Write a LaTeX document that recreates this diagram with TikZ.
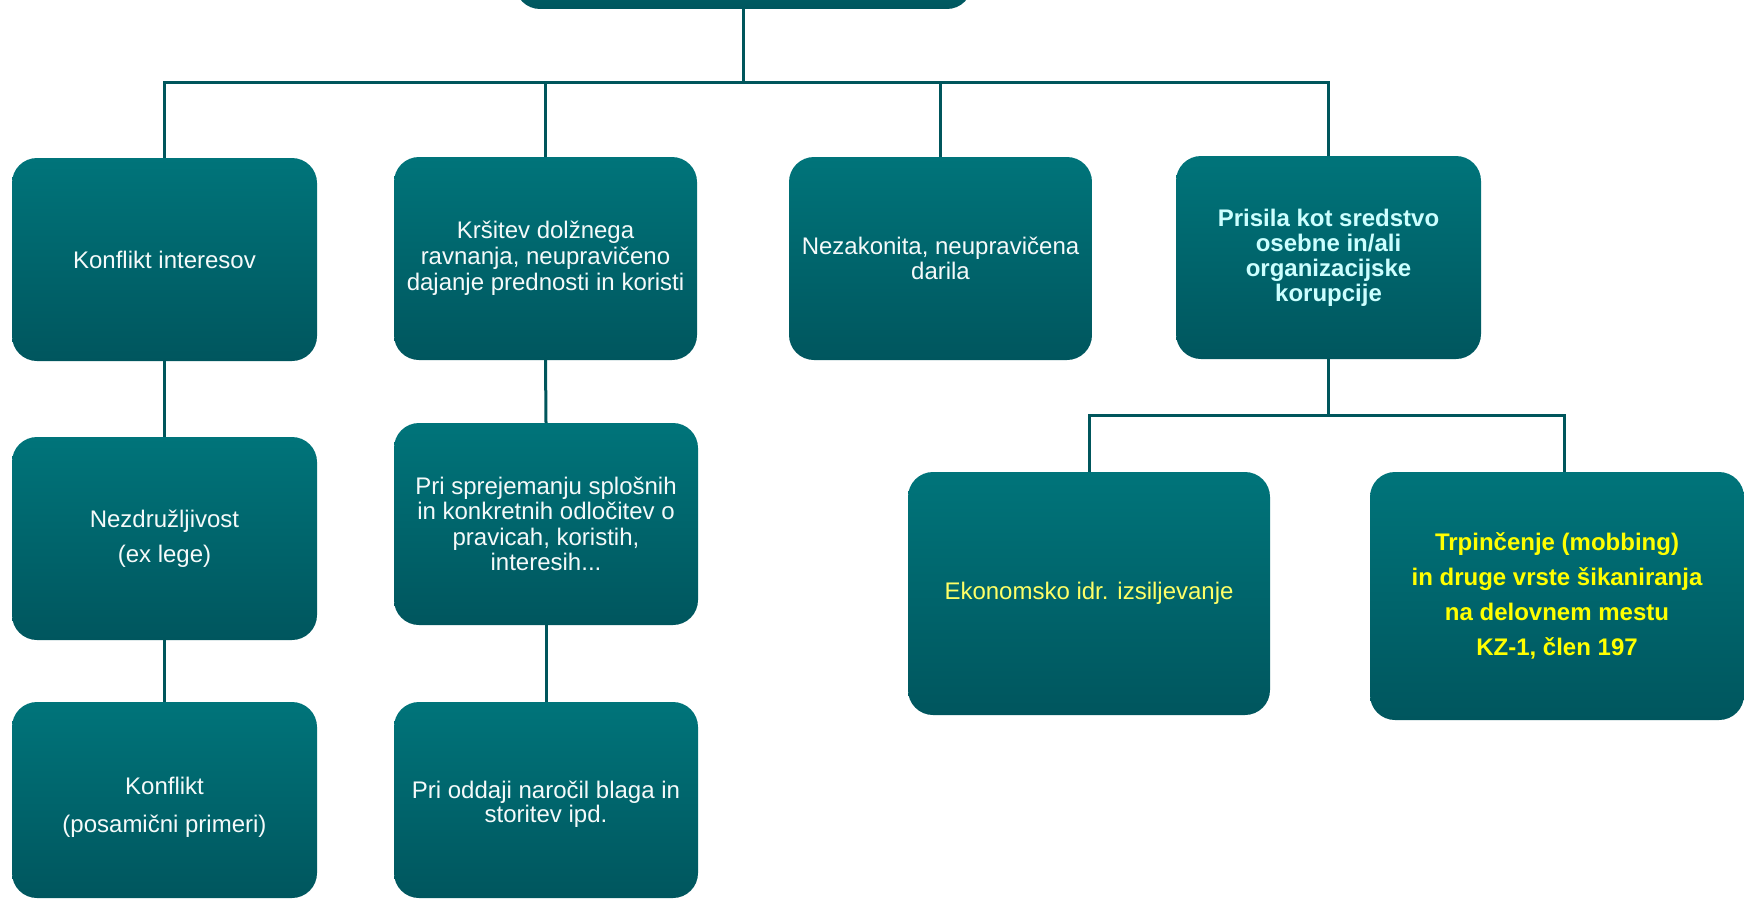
\documentclass[tikz,border=0pt]{standalone}
\usepackage{fontspec}
\setmainfont{Liberation Sans}
\definecolor{tealtop}{RGB}{0,116,122}
\definecolor{tealbot}{RGB}{0,86,94}
\definecolor{tline}{RGB}{0,86,92}
\definecolor{txtw}{RGB}{245,250,250}
\definecolor{txtc}{RGB}{204,255,255}
\definecolor{txty}{RGB}{255,255,102}
\definecolor{txtyy}{RGB}{255,255,0}
\tikzset{
  box/.style={rectangle, rounded corners=25pt, top color=tealtop, bottom color=tealbot,
    draw=none, inner sep=0pt, align=center, text=txtw,
    font=\fontsize{24}{#1}\selectfont},
  box/.default=25,
  boxtext/.style={inner sep=0pt, align=center, text=txtw, font=\fontsize{24}{#1}\selectfont},
  boxtext/.default=25,
  conn/.style={draw=tline, line width=3pt},
}
\begin{document}
\begin{tikzpicture}[x=1pt,y=-1pt]
\useasboundingbox (0,0) rectangle (1744,899);
\clip (0,0) rectangle (1744,899);
% root (cut off at top)
\node[box, minimum width=457pt, minimum height=69pt] (root) at (743.5,-25.5) {};
% row 1
\node[box, minimum width=305pt, minimum height=203pt] (b1) at (164.5,259.5) {Konflikt interesov};
\node[box=26, minimum width=303pt, minimum height=203pt] (b2) at (545.5,258.5)
  {Kršitev dolžnega\\ravnanja, neupravičeno\\dajanje prednosti in koristi};
\node[box=24.5, minimum width=303pt, minimum height=203pt] (b3) at (940.5,258.5)
  {Nezakonita, neupravičena\\darila};
\node[box, minimum width=305pt, minimum height=203pt, text=txtc, font=\bfseries\fontsize{24}{25}\selectfont] (b4) at (1328.5,257.5)
  {Prisila kot sredstvo\\osebne in/ali\\organizacijske\\korupcije};
% row 2
\node[box=34.5, minimum width=305pt, minimum height=203pt] (b5) at (164.5,538.5)
  {Nezdružljivost\\(ex lege)};
\node[box=25.5, minimum width=304pt, minimum height=202pt] (b6) at (546,524)
  {Pri sprejemanju splošnih\\in konkretnih odločitev o\\pravicah, koristih,\\interesih...};
% row 3
\node[box, minimum width=305pt, minimum height=196pt] (b7) at (164.5,800) {};
\node[boxtext=38] (t7) at ([yshift=-7pt]b7.center) {Konflikt\\(posamični primeri)};
\node[box, minimum width=304pt, minimum height=196pt] (b8) at (546,800) {};
\node[boxtext=24.5] (t8) at ([yshift=-4pt]b8.center) {Pri oddaji naročil blaga in\\storitev ipd.};
% coercion children
\node[box, minimum width=362pt, minimum height=243pt, text=txty] (b9) at (1089,593.5)
  {Ekonomsko idr. izsiljevanje};
\node[box=35, minimum width=374pt, minimum height=248pt, text=txtyy, font=\bfseries\fontsize{24}{35}\selectfont] (b10) at (1557,596)
  {Trpinčenje (mobbing)\\in druge vrste šikaniranja\\na delovnem mestu\\KZ-1, člen 197};
% connectors
\coordinate (j1) at (743,82);
\coordinate (j2) at (1328.5,415);
\coordinate (d10) at (1564,472);
\draw[conn] (root.south -| j1) -- (j1);
\draw[conn] (b1.north) |- (j1) -| (b4.north);
\draw[conn] (b2.north) -- (b2.north |- j1);
\draw[conn] (b3.north) -- (b3.north |- j1);
\draw[conn] (b1.south) -- (b5.north);
\draw[conn] (b5.south) -- (b7.north);
\draw[conn] (b2.south) -- (b6.north);
\draw[conn] (b6.south) -- (b8.north);
\draw[conn] (b4.south) -- (j2);
\draw[conn] (b9.north) |- (j2) -| (d10);
\end{tikzpicture}
\end{document}
